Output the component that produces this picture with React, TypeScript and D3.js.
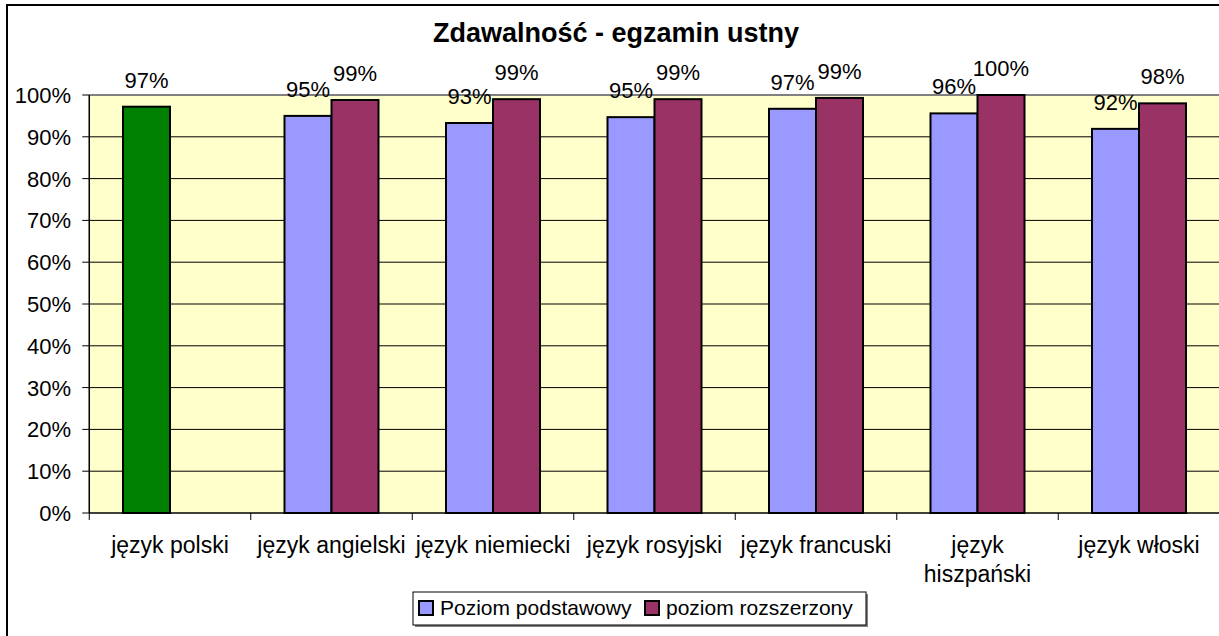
import React from "react";
import * as d3 from "d3";

const categories = [
  "język polski",
  "język angielski",
  "język niemiecki",
  "język rosyjski",
  "język francuski",
  "język hiszpański",
  "język włoski",
];
const seriesNames = ["Poziom podstawowy", "poziom rozszerzony"];
const podstawowy: (number | null)[] = [97.2, 95.0, 93.3, 94.7, 96.7, 95.6, 91.9];
const rozszerzony: (number | null)[] = [null, 98.8, 99.0, 99.0, 99.3, 100, 98.0];
const podstawowyLabels = ["97%", "95%", "93%", "95%", "97%", "96%", "92%"];
const rozszerzonyLabels = ["", "99%", "99%", "99%", "99%", "100%", "98%"];
const yTicks = [0, 10, 20, 30, 40, 50, 60, 70, 80, 90, 100];
const seriesColors = ["#9999FF", "#993366"];
const polskiColor = "#008000";

const W = 1219;
const H = 636;
const plotLeft = 89.25;
const plotRight = 1219.75;
const plotTop = 95;
const plotBottom = 513;
const FONT = "Arial, 'Liberation Sans', sans-serif";

export default function App() {
  const x0 = d3.scaleBand<string>().domain(categories).range([plotLeft, plotRight]).padding(0);
  const bw = x0.bandwidth();
  const pairW = 94;
  const x1 = d3
    .scaleBand<string>()
    .domain(seriesNames)
    .range([(bw - pairW) / 2, (bw + pairW) / 2])
    .padding(0);
  const y = d3.scaleLinear().domain([0, 100]).range([plotBottom, plotTop]);

  const seriesData = [podstawowy, rozszerzony];
  const seriesLabels = [podstawowyLabels, rozszerzonyLabels];

  const xTickPositions = categories.map((c) => x0(c) as number).concat([plotRight]);

  return (
    <svg
      width={W}
      height={H}
      style={{ position: "absolute", left: 0, top: 0, background: "#fff" }}
      fontFamily={FONT}
    >
      <rect x={0} y={0} width={W} height={H} fill="#fff" />
      {/* outer chart border */}
      <rect x={7} y={5} width={1218} height={640} fill="#fff" stroke="#000" strokeWidth={2} />
      {/* title */}
      <text x={616} y={42} textAnchor="middle" fontSize={27} fontWeight="bold" fill="#000">
        Zdawalność - egzamin ustny
      </text>
      {/* plot area */}
      <rect
        x={plotLeft}
        y={plotTop}
        width={plotRight - plotLeft}
        height={plotBottom - plotTop}
        fill="#FFFFCC"
      />
      {/* gridlines */}
      {yTicks
        .filter((t) => t > 0 && t < 100)
        .map((t) => (
          <line key={"g" + t} x1={plotLeft} x2={plotRight} y1={y(t)} y2={y(t)} stroke="#000" strokeWidth={1} />
        ))}
      <line x1={plotLeft} x2={plotRight} y1={plotTop} y2={plotTop} stroke="#808080" strokeWidth={2} />
      {/* bars */}
      {seriesData.map((vals, si) =>
        vals.map((v, ci) => {
          if (v === null) return null;
          const cx = (x0(categories[ci]) as number) + (x1(seriesNames[si]) as number);
          const fill = si === 0 && ci === 0 ? polskiColor : seriesColors[si];
          return (
            <rect
              key={`b${si}-${ci}`}
              x={cx}
              y={y(v)}
              width={x1.bandwidth()}
              height={plotBottom - y(v)}
              fill={fill}
              stroke="#000"
              strokeWidth={2}
            />
          );
        })
      )}
      {/* axes */}
      <line x1={plotLeft} x2={plotLeft} y1={plotTop} y2={plotBottom} stroke="#000" strokeWidth={1.5} />
      <line x1={plotLeft} x2={plotRight} y1={plotBottom} y2={plotBottom} stroke="#000" strokeWidth={1.5} />
      {yTicks.map((t) => (
        <g key={"yt" + t}>
          <line x1={plotLeft - 7} x2={plotLeft} y1={y(t)} y2={y(t)} stroke="#000" strokeWidth={1} />
          <text x={71} y={y(t)} dy="0.36em" textAnchor="end" fontSize={22} fill="#000">
            {t}%
          </text>
        </g>
      ))}
      {xTickPositions.map((px, i) => (
        <line key={"xt" + i} x1={px} x2={px} y1={plotBottom} y2={plotBottom + 7} stroke="#000" strokeWidth={1} />
      ))}
      {categories.map((c) => {
        const cx = (x0(c) as number) + bw / 2;
        const words = c === "język hiszpański" ? ["język", "hiszpański"] : [c];
        return (
          <text key={"xl" + c} x={cx} y={553} textAnchor="middle" fontSize={23} fill="#000">
            {words.map((w, i) => (
              <tspan key={i} x={cx} dy={i === 0 ? 0 : 29}>
                {w}
              </tspan>
            ))}
          </text>
        );
      })}
      {/* data labels */}
      {seriesData.map((vals, si) =>
        vals.map((v, ci) => {
          if (v === null) return null;
          const cx = (x0(categories[ci]) as number) + (x1(seriesNames[si]) as number) + x1.bandwidth() / 2;
          return (
            <text key={`l${si}-${ci}`} x={cx} y={y(v) - 19} textAnchor="middle" fontSize={22} fill="#000">
              {seriesLabels[si][ci]}
            </text>
          );
        })
      )}
      {/* legend */}
      <rect x={415} y={594} width={453} height={33} fill="#808080" />
      <rect x={413} y={592} width={453} height={33} fill="#fff" stroke="#000" strokeWidth={1} />
      {seriesNames.map((s, i) => {
        const lx = i === 0 ? 419 : 645;
        return (
          <g key={"lg" + s}>
            <rect x={lx} y={601} width={14} height={14} fill={seriesColors[i]} stroke="#000" strokeWidth={2} />
            <text x={lx + 21} y={615} fontSize={21} fill="#000">
              {s}
            </text>
          </g>
        );
      })}
    </svg>
  );
}
